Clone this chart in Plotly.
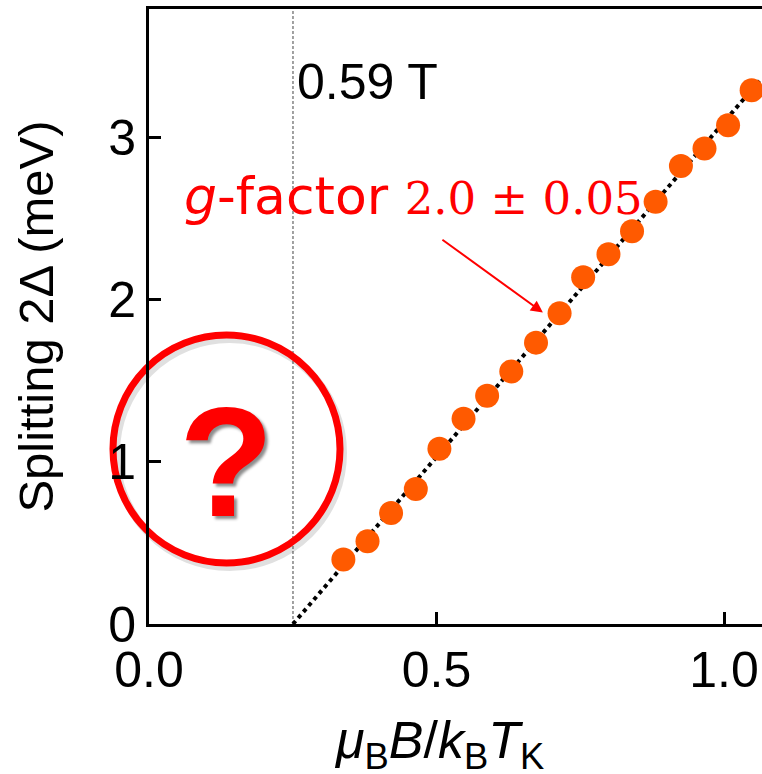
import plotly.graph_objects as go

# data
x_vals = [0.338, 0.380, 0.421, 0.464, 0.505, 0.547, 0.588, 0.630, 0.673, 0.714,
          0.755, 0.799, 0.840, 0.881, 0.925, 0.966, 1.007, 1.048]
y_vals = [0.397, 0.510, 0.684, 0.832, 1.080, 1.265, 1.406, 1.556, 1.734, 1.915,
          2.137, 2.278, 2.420, 2.602, 2.822, 2.930, 3.074, 3.289]
fit_x = [0.2504, 1.066]
fit_y = [0.0, 3.366]
threshold_x = 0.2504
x_ticks = [0.0, 0.5, 1.0]
x_tick_labels = ["0.0", "0.5", "1.0"]
y_ticks = [0, 1, 2, 3]
y_tick_labels = ["0", "1", "2", "3"]
x_title = "<i>μ</i><sub>B</sub><i>B</i>/<i>k</i><sub>B</sub><i>T</i><sub>K</sub>"
y_title = "Splitting 2Δ (meV)"

FONT = "Liberation Sans, Arial, sans-serif"
ORANGE = "#FF5A00"
RED = "#FF0000"

# plot-area geometry in page pixels
PW = 613.0   # plot width
PH = 615.0   # plot height
X0S = 149.0  # x of plot left
Y0S = 624.0  # y of plot bottom


def px(sx):
    return (sx - X0S) / PW


def py(sy):
    return (Y0S - sy) / PH


fig = go.Figure()
fig.add_trace(go.Scatter(x=fit_x, y=fit_y, mode="lines",
                         line=dict(color="black", width=4, dash="dot"),
                         showlegend=False, hoverinfo="skip"))
fig.add_trace(go.Scatter(x=x_vals, y=y_vals, mode="markers",
                         marker=dict(color=ORANGE, size=24, line=dict(width=0)),
                         showlegend=False))

# vertical dashed threshold line
fig.add_shape(type="line", xref="x", yref="paper", x0=threshold_x, x1=threshold_x,
              y0=0, y1=1, line=dict(color="#444444", width=1, dash="3px,2px"), layer="below")

# red circle with a faint shadow (paper coords so it can cross the axis)
fig.add_shape(type="circle", xref="paper", yref="paper",
              x0=px(116), x1=px(343), y0=py(567), y1=py(339),
              line=dict(color="rgba(0,0,0,0.12)", width=8), layer="below")
fig.add_shape(type="circle", xref="paper", yref="paper",
              x0=px(113), x1=px(340), y0=py(563), y1=py(335),
              line=dict(color=RED, width=7), layer="below")

fig.add_annotation(xref="paper", yref="paper", x=px(226), y=0.262, text="?",
                   showarrow=False, xanchor="center", yanchor="middle",
                   font=dict(family=FONT, size=155, color=RED, weight="bold",
                             shadow="3px 3px 3px rgba(0,0,0,0.45)"))

fig.add_annotation(xref="x", yref="paper", x=threshold_x, y=py(82), text="0.59 T",
                   showarrow=False, xanchor="left", yanchor="middle", xshift=2,
                   font=dict(family=FONT, size=50, color="black"))

fig.add_annotation(xref="paper", yref="paper", x=px(182), y=py(196),
                   text="<i>g</i>-factor <span style='font-family:DejaVu Serif, serif;font-size:45px'>2.0 ± 0.05</span>",
                   showarrow=False, xanchor="left", yanchor="middle",
                   font=dict(family="DejaVu Sans, Verdana, sans-serif", size=52, color=RED))

fig.add_annotation(x=0.685, y=1.919, xref="x", yref="y", text="",
                   showarrow=True, ax=-102, ay=-74, arrowcolor=RED,
                   arrowwidth=2, arrowhead=2, arrowsize=1.2)

# x-axis title placed as annotation to match the reference's horizontal offset
fig.add_annotation(xref="paper", yref="paper", x=px(439), y=py(744), text=x_title,
                   showarrow=False, xanchor="center", yanchor="middle",
                   font=dict(family=FONT, size=52, color="black"))

fig.update_layout(
    width=762, height=774,
    margin=dict(l=149, r=0, t=9, b=150, autoexpand=False),
    paper_bgcolor="white", plot_bgcolor="white",
    font=dict(family=FONT, size=50, color="black"),
    xaxis=dict(range=[0, 1.066], tickvals=x_ticks, ticktext=x_tick_labels,
               ticks="inside", ticklen=12, tickwidth=3, tickcolor="black",
               showline=True, linecolor="black", linewidth=3, mirror=True,
               showgrid=False, zeroline=False, automargin=False,
               tickfont=dict(family=FONT, size=50)),
    yaxis=dict(range=[0, 3.79], tickvals=y_ticks, ticktext=y_tick_labels,
               ticks="inside", ticklen=12, tickwidth=3, tickcolor="black",
               showline=True, linecolor="black", linewidth=3, mirror=False,
               showgrid=False, zeroline=False, automargin=False,
               tickfont=dict(family=FONT, size=50),
               title=dict(text=y_title, font=dict(family=FONT, size=49), standoff=40)),
)

fig.write_html("out.html", config={"displayModeBar": False},
               post_script="document.body.style.margin='0';document.body.style.overflow='hidden';")
